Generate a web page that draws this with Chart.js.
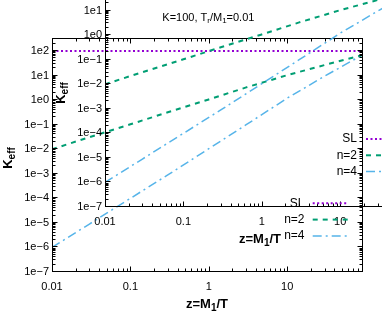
<!DOCTYPE html>
<html>
<head>
<meta charset="utf-8">
<script src="https://cdn.jsdelivr.net/npm/chart.js@4.4.0/dist/chart.umd.min.js"></script>
<style>
  body { margin: 0; background: #fff; }
  #quadro { position: relative; width: 382px; height: 327px; overflow: hidden; }
  canvas { position: absolute; }
  #graficoPrincipal { left: 0; top: 0; }
  #graficoInset { left: 53px; top: -65px; }
</style>
</head>
<body>
<div id="quadro">
  <canvas id="graficoPrincipal" width="382" height="327"></canvas>
  <canvas id="graficoInset" width="382" height="327"></canvas>
</div>
<script>
// z = M1/T
const zValores = [0.01, 0.03, 0.1, 0.3, 1, 3, 10, 30, 90];
const keffSL = [100, 100, 100, 100, 100, 100, 100, 100, 100];
const keffN2 = [0.01, 0.031, 0.104, 0.32, 1.07, 3.3, 10.4, 27, 68];
const keffN4 = [1e-6, 9e-6, 1e-4, 9e-4, 1.05e-2, 0.1, 1.2, 9.5, 68];
const nomesSeries = ['SL', 'n=2', 'n=4'];

const xTicks = [0.01, 0.1, 1, 10];
const xTickLabels = ['0.01', '0.1', '1', '10'];
const yTicks = [1e-7, 1e-6, 1e-5, 1e-4, 1e-3, 1e-2, 1e-1, 1e0, 1e1, 1e2];
const yTickLabels = ['1e−7', '1e−6', '1e−5', '1e−4', '1e−3', '1e−2', '1e−1', '1e0', '1e1', '1e2'];

const fonte = "'Liberation Sans', Arial, sans-serif";
Chart.defaults.font.family = fonte;
Chart.defaults.color = '#000';

function textoComIndice(ctx, partes, x, y, tam, negrito, alinhamento) {
    const peso = negrito ? 'bold ' : '';
    let largura = 0;
    for (const p of partes) {
        ctx.font = peso + (p[1] ? Math.round(tam * 0.75) : tam) + 'px ' + fonte;
        largura += ctx.measureText(p[0]).width;
    }
    let cx = alinhamento === 'center' ? x - largura / 2 : x;
    ctx.textAlign = 'left';
    ctx.textBaseline = 'alphabetic';
    for (const p of partes) {
        ctx.font = peso + (p[1] ? Math.round(tam * 0.75) : tam) + 'px ' + fonte;
        ctx.fillText(p[0], cx, p[1] ? y + tam * 0.22 : y);
        cx += ctx.measureText(p[0]).width;
    }
}

function marcasLog(scale, desenha) {
    const d0 = Math.floor(Math.log10(scale.min));
    const d1 = Math.ceil(Math.log10(scale.max));
    for (let d = d0; d <= d1; d++) {
        for (let k = 1; k <= 9; k++) {
            const v = k * Math.pow(10, d);
            if (v < scale.min * 0.999 || v > scale.max * 1.001) continue;
            desenha(Math.round(scale.getPixelForValue(v)) + 0.5, k === 1);
        }
    }
}

const moldura = {
    id: 'moldura',
    afterDraw(chart, args, opts) {
        const ctx = chart.ctx;
        const a = chart.chartArea;
        const L = Math.floor(a.left) + 0.5, T = Math.floor(a.top) + 0.5;
        const R = Math.floor(a.right) + 0.5, B = Math.floor(a.bottom) - 0.5;
        ctx.save();
        ctx.strokeStyle = '#000';
        ctx.lineWidth = 1;
        ctx.setLineDash([]);
        ctx.strokeRect(L, T, R - L, B - T);

        ctx.beginPath();
        marcasLog(chart.scales.x, (px, maior) => {
            const t = maior ? 5 : 3;
            ctx.moveTo(px, B); ctx.lineTo(px, B - t);
            ctx.moveTo(px, T); ctx.lineTo(px, T + t);
        });
        marcasLog(chart.scales.y, (py, maior) => {
            const t = maior ? 5 : 3;
            py = py - 1;
            ctx.moveTo(L, py); ctx.lineTo(L + t, py);
            ctx.moveTo(R, py); ctx.lineTo(R - t, py);
        });
        ctx.stroke();

        ctx.fillStyle = '#000';
        // titulo do eixo x
        textoComIndice(ctx, [['z=M', false], ['1', true], ['/T', false]],
            (a.left + a.right) / 2, a.bottom + 36, 13, true, 'center');
        // titulo do eixo y
        ctx.save();
        ctx.translate(12, (a.top + a.bottom) / 2 + 3);
        ctx.rotate(-Math.PI / 2);
        textoComIndice(ctx, [['K', false], ['eff', true]], 0, 0, 13, true, 'center');
        ctx.restore();

        if (opts.nota) {
            textoComIndice(ctx, [['K=100, T', false], ['r', true], ['/M', false], ['1', true], ['=0.01', false]],
                opts.nota.x, opts.nota.y, 11, false, 'left');
        }

        // legenda
        const lg = opts.legenda;
        chart.data.datasets.forEach((ds, i) => {
            const y = lg.y0 + i * lg.dy;
            ctx.font = '12px ' + fonte;
            ctx.textAlign = 'right';
            ctx.textBaseline = 'middle';
            ctx.fillStyle = '#000';
            ctx.fillText(ds.label, lg.direita, y);
            ctx.beginPath();
            ctx.strokeStyle = ds.borderColor;
            ctx.lineWidth = ds.borderWidth;
            ctx.setLineDash(ds.borderDash);
            ctx.moveTo(lg.x0, y);
            ctx.lineTo(lg.x0 + lg.comp, y);
            ctx.stroke();
        });
        ctx.restore();
    }
};

function montarGrafico(canvasId, legenda, nota) {
    const pontos = (serie) => zValores.map((z, i) => ({ x: z, y: serie[i] }));
    const config = {
        type: 'line',
        data: {
            datasets: [{
                label: nomesSeries[0],
                data: pontos(keffSL),
                borderColor: '#9400d3',
                borderWidth: 2,
                borderDash: [2, 2.5],
                pointRadius: 0,
                tension: 0
            }, {
                label: nomesSeries[1],
                data: pontos(keffN2),
                borderColor: '#009e73',
                borderWidth: 2,
                borderDash: [5, 5],
                pointRadius: 0,
                tension: 0
            }, {
                label: nomesSeries[2],
                data: pontos(keffN4),
                borderColor: '#56b4e9',
                borderWidth: 1.5,
                borderDash: [9, 4, 2, 4],
                pointRadius: 0,
                tension: 0
            }]
        },
        options: {
            responsive: false,
            animation: false,
            devicePixelRatio: 1,
            events: [],
            layout: {
                padding: { top: 38, right: 20, left: 0, bottom: 0 }
            },
            plugins: {
                legend: { display: false },
                tooltip: { enabled: false },
                moldura: { legenda: legenda, nota: nota }
            },
            scales: {
                x: {
                    type: 'logarithmic',
                    min: 0.01,
                    max: 90,
                    afterFit: (s) => { s.height = 55; },
                    afterBuildTicks: (s) => { s.ticks = xTicks.map((v) => ({ value: v })); },
                    grid: { display: false, drawTicks: false },
                    border: { display: false },
                    ticks: {
                        autoSkip: false,
                        maxRotation: 0,
                        padding: 8,
                        font: { size: 11 },
                        callback: (value, index) => xTickLabels[index]
                    }
                },
                y: {
                    type: 'logarithmic',
                    min: 1e-7,
                    max: 340,
                    afterFit: (s) => { s.width = 52; },
                    afterBuildTicks: (s) => { s.ticks = yTicks.map((v) => ({ value: v })); },
                    grid: { display: false, drawTicks: false },
                    border: { display: false },
                    ticks: {
                        autoSkip: false,
                        padding: 3,
                        font: { size: 11 },
                        callback: (value, index) => yTickLabels[index]
                    }
                }
            }
        },
        plugins: [moldura]
    };
    return new Chart(document.getElementById(canvasId), config);
}

montarGrafico('graficoPrincipal', { direita: 357, y0: 139, dy: 16.3, x0: 366, comp: 35 }, null);
montarGrafico('graficoInset', { direita: 251.5, y0: 268.3, dy: 16.3, x0: 259.7, comp: 35 }, { x: 109.3, y: 85.7 });
</script>
</body>
</html>
